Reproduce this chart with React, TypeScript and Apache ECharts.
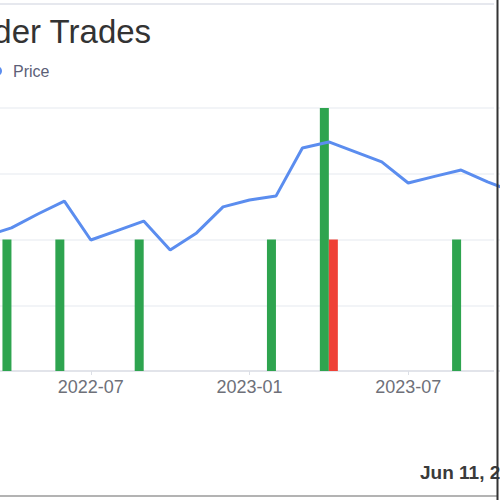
import { useEffect, useRef } from "react";
import * as echarts from "echarts";

// monthly categories, price line and insider trade counts
const months = [
  "2022-03", "2022-04", "2022-05", "2022-06", "2022-07", "2022-08", "2022-09",
  "2022-10", "2022-11", "2022-12", "2023-01", "2023-02", "2023-03", "2023-04",
  "2023-05", "2023-06", "2023-07", "2023-08", "2023-09", "2023-10", "2023-11",
];
const price = [
  51.3, 54.4, 59.7, 64.6, 49.8, 53.4, 57.0, 46.0, 52.5, 62.4, 65.0, 66.5, 84.8,
  87.1, 83.3, 79.5, 71.5, 74.0, 76.4, 71.9, 68.1,
];
const buys = [
  null, 2, null, 2, null, null, 2, null, null, null, null, 2, null, 4, null,
  null, null, null, 2, null, null,
];
const sells = [
  null, null, null, null, null, null, null, null, null, null, null, null, null,
  2, null, null, null, null, null, null, null,
];
const dateText = "Jun 11, 2024";

const showLabel = (_i: number, v: string) => v.endsWith("-01") || v.endsWith("-07");

export default function App() {
  const chartRef = useRef<HTMLDivElement>(null);

  useEffect(() => {
    if (!chartRef.current) return;
    const chart = echarts.init(chartRef.current, undefined, { renderer: "svg" });

    const font = "'Liberation Sans', Arial, sans-serif";
    const buyColor = "#2ea44f";
    const sellColor = "#ef4136";
    const lineColor = "#5b8def";
    const gridColor = "#eef0f4";

    const option: echarts.EChartsOption = {
      animation: false,
      backgroundColor: "#fff",
      textStyle: { fontFamily: font },
      title: {
        text: "Insider Trades",
        left: 37,
        top: 10,
        textStyle: { fontSize: 33, fontWeight: "normal", color: "#333", fontFamily: font },
      },
      legend: {
        data: ["Price"],
        left: 87,
        top: 58,
        icon: "circle",
        itemWidth: 10,
        itemHeight: 10,
        textStyle: {
          fontSize: 16,
          color: "#5c5f77",
          fontFamily: font,
          padding: [0, 0, 0, 6],
        },
      },
      grid: { left: 85, right: 86, top: 108, bottom: 129, outerBoundsMode: "none" } as any,
      xAxis: {
        type: "category",
        data: months,
        boundaryGap: false,
        axisLine: { lineStyle: { color: "#dcdfe6", width: 1.5 } },
        axisTick: { interval: showLabel, length: 4, lineStyle: { color: "#dcdfe6" } },
        axisLabel: {
          interval: showLabel,
          fontSize: 18,
          color: "#6e7079",
          margin: 7,
          fontFamily: font,
        },
        splitLine: { show: false },
      },
      yAxis: [
        {
          type: "value",
          min: 0,
          max: 100,
          interval: 25,
          axisLabel: { show: false },
          axisLine: { show: false },
          axisTick: { show: false },
          splitLine: { lineStyle: { color: gridColor, width: 1.5 } },
        },
        {
          type: "value",
          min: 0,
          max: 4,
          interval: 1,
          axisLabel: { show: false },
          axisLine: { show: false },
          axisTick: { show: false },
          splitLine: { show: false },
        },
      ],
      series: [
        {
          name: "Buy",
          type: "bar",
          yAxisIndex: 1,
          data: buys,
          barWidth: 9,
          barGap: "0%",
          itemStyle: { color: buyColor },
        },
        {
          name: "Sell",
          type: "bar",
          yAxisIndex: 1,
          data: sells,
          barWidth: 9,
          barGap: "0%",
          itemStyle: { color: sellColor },
        },
        {
          name: "Price",
          type: "line",
          yAxisIndex: 0,
          data: price,
          symbol: "none",
          itemStyle: { color: lineColor },
          lineStyle: { color: lineColor, width: 3 },
          z: 3,
        },
      ],
      graphic: [
        {
          type: "line",
          shape: { x1: 100, y1: 4, x2: 594, y2: 4 },
          style: { stroke: "#e6e8ee", lineWidth: 2 },
        },
        {
          type: "rect",
          shape: { x: 594, y: 100, width: 3, height: 275 },
          style: { fill: "#fff" },
          z: 1,
        },
        {
          type: "text",
          left: 520,
          top: 463,
          style: {
            text: dateText,
            fontSize: 19,
            fontWeight: "bold",
            fill: "#3a3a3a",
            fontFamily: font,
          },
        },
        {
          type: "line",
          shape: { x1: 100, y1: 496, x2: 597, y2: 496 },
          style: { stroke: "#9a9a9a", lineWidth: 1.5 },
        },
        {
          type: "line",
          shape: { x1: 597.5, y1: 0, x2: 597.5, y2: 500 },
          style: { stroke: "#333", lineWidth: 2 },
          z: 11,
        },
      ],
    };

    chart.setOption(option);
    return () => chart.dispose();
  }, []);

  return (
    <div
      style={{
        position: "fixed",
        left: 0,
        top: 0,
        width: 500,
        height: 500,
        overflow: "hidden",
        background: "#fff",
      }}
    >
      <div
        ref={chartRef}
        style={{ position: "absolute", left: -100, top: 0, width: 700, height: 500 }}
      />
    </div>
  );
}
